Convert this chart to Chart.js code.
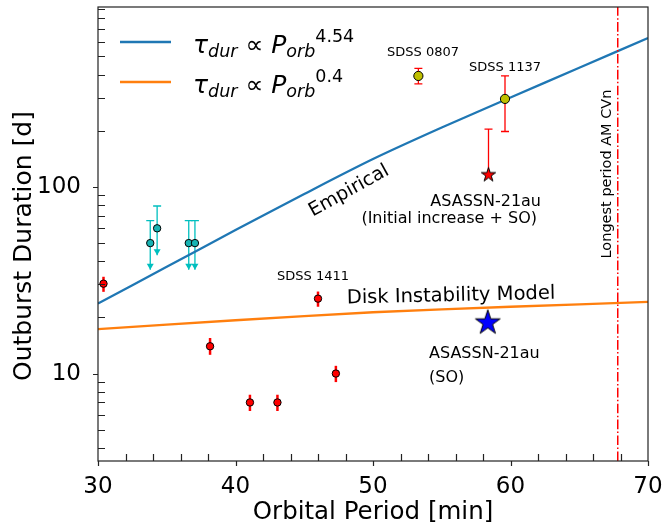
<!DOCTYPE html>
<html>
<head>
<meta charset="utf-8">
<title>Outburst duration vs orbital period</title>
<script src="https://cdn.jsdelivr.net/npm/chart.js"></script>
<style>
  html, body { margin: 0; padding: 0; background: #fff; }
</style>
</head>
<body>
<canvas id="chart" width="665" height="527"></canvas>
<script>
// axis ranges and tick labels
const xRange = [30, 70];
const yRange = [3.4, 920];
const xTicks = [30, 40, 50, 60, 70];
const yTicks = [10, 100];

// empirical trend
const empiricalP = [30, 35, 40, 45, 50, 55, 60, 65, 70];
const empiricalDur = [23.7, 37.3, 58.7, 91.6, 141, 208, 301, 435, 628];

// disk instability model (orange line)
const diskP = [30, 40, 50, 60, 70];
const diskDur = [17.3, 19.3, 21.3, 22.8, 24.2];

// normal outbursts (red points)
const normP = [30.4, 38.15, 41.05, 43.05, 46.0, 47.3];
const normDur = [30.3, 14.0, 7.0, 7.0, 25.2, 10.0];
const normLo = [27.4, 12.6, 6.3, 6.3, 22.8, 9.0];
const normHi = [33.0, 15.5, 7.7, 7.7, 27.5, 11.0];

// upper limits (cyan)
const limP = [33.8, 34.3, 36.6, 37.05];
const limDur = [50, 60, 50, 50];
const limHi = [66, 79, 66, 66];
const limArrow = [36, 43, 36, 36];

// SDSS 0807 and SDSS 1137 (yellow)
const sdssP = [53.3, 59.6];
const sdssDur = [393, 296];
const sdssLo = [356, 198];
const sdssHi = [431, 393];

// ASASSN-21au
const initP = [58.4];
const initDur = [117];
const initHi = [204];
const soP = [58.35];
const soDur = [19];
const soLo = [17.8];
const soHi = [20.3];

// longest period AM CVn
const amcvnP = 67.8;

const FONT = "'DejaVu Sans', sans-serif";

function pts(xs, ys) {
  return xs.map((x, i) => ({ x: x, y: ys[i] }));
}

// filled 5-point star marker like matplotlib '*'
function starMarker(r, fill) {
  const size = Math.ceil(2 * r + 4);
  const c = document.createElement('canvas');
  c.width = size;
  c.height = size;
  const g = c.getContext('2d');
  const cx = size / 2, cy = size / 2 + r * 0.1;
  g.beginPath();
  for (let i = 0; i < 10; i++) {
    const rad = i % 2 === 0 ? r : r * 0.382;
    const a = -Math.PI / 2 + i * Math.PI / 5;
    const px = cx + rad * Math.cos(a), py = cy + rad * Math.sin(a);
    if (i === 0) g.moveTo(px, py); else g.lineTo(px, py);
  }
  g.closePath();
  g.fillStyle = fill;
  g.fill();
  g.strokeStyle = '#000';
  g.lineWidth = 1;
  g.stroke();
  return c;
}

// error bars, drawn under the markers
const errorBars = {
  id: 'errorBars',
  beforeDatasetsDraw(chart) {
    const ctx = chart.ctx, xs = chart.scales.x, ys = chart.scales.y;
    const X = v => xs.getPixelForValue(v), Y = v => ys.getPixelForValue(v);
    ctx.save();
    function bar(x, lo, hi, color, lw, capLo, capHi) {
      ctx.strokeStyle = color;
      ctx.lineWidth = lw;
      ctx.beginPath();
      ctx.moveTo(X(x), Y(lo));
      ctx.lineTo(X(x), Y(hi));
      if (capLo) { ctx.moveTo(X(x) - 4, Y(lo)); ctx.lineTo(X(x) + 4, Y(lo)); }
      if (capHi) { ctx.moveTo(X(x) - 4, Y(hi)); ctx.lineTo(X(x) + 4, Y(hi)); }
      ctx.stroke();
    }
    normP.forEach((p, i) => bar(p, normLo[i], normHi[i], '#ff0000', 2.5, false, false));
    sdssP.forEach((p, i) => bar(p, sdssLo[i], sdssHi[i], '#ff0000', 1.3, true, true));
    initP.forEach((p, i) => bar(p, initDur[i], initHi[i], '#ff0000', 1.3, false, true));
    soP.forEach((p, i) => bar(p, soLo[i], soHi[i], '#ff0000', 1.3, false, false));
    limP.forEach((p, i) => {
      bar(p, limArrow[i], limHi[i], '#00bfbf', 1.3, false, true);
      const x = X(p), y = Y(limArrow[i]);
      ctx.fillStyle = '#00bfbf';
      ctx.beginPath();
      ctx.moveTo(x - 3.5, y - 6);
      ctx.lineTo(x + 3.5, y - 6);
      ctx.lineTo(x, y);
      ctx.closePath();
      ctx.fill();
    });
    ctx.restore();
  }
};

function drawText(ctx, s, x, y, size, align, angle) {
  ctx.save();
  ctx.translate(x, y);
  if (angle) ctx.rotate(angle * Math.PI / 180);
  ctx.font = size + 'px ' + FONT;
  ctx.fillStyle = '#000';
  ctx.textAlign = align || 'center';
  ctx.textBaseline = 'middle';
  ctx.fillText(s, 0, 0);
  ctx.restore();
}

// frame, ticks, labels, legend
const decorations = {
  id: 'decorations',
  afterDraw(chart) {
    const ctx = chart.ctx, a = chart.chartArea;
    const xs = chart.scales.x, ys = chart.scales.y;
    ctx.save();
    ctx.strokeStyle = '#222';
    ctx.lineWidth = 1.2;
    ctx.strokeRect(a.left, a.top, a.right - a.left, a.bottom - a.top);

    ctx.beginPath();
    for (let v = xRange[0]; v <= xRange[1]; v += 2) {
      const px = Math.round(xs.getPixelForValue(v)) + 0.5;
      if (v % 10 === 0) { ctx.moveTo(px, a.bottom); ctx.lineTo(px, a.bottom + 5); }
      else { ctx.moveTo(px, a.bottom); ctx.lineTo(px, a.bottom - 7); }
    }
    for (let dec = 1; dec <= 100; dec *= 10) {
      for (let m = 1; m <= 9; m++) {
        const v = m * dec;
        if (v < yRange[0] || v > yRange[1]) continue;
        const py = Math.round(ys.getPixelForValue(v)) + 0.5;
        if (m === 1) { ctx.moveTo(a.left, py); ctx.lineTo(a.left - 5, py); }
        else { ctx.moveTo(a.left, py); ctx.lineTo(a.left + 7, py); }
      }
    }
    ctx.stroke();

    // axis titles
    drawText(ctx, 'Orbital Period [min]', (a.left + a.right) / 2, 513, 24.5);
    drawText(ctx, 'Outburst Duration [d]', 24, 246, 25, 'center', -90);

    // annotations
    drawText(ctx, 'SDSS 0807', 423, 53, 13);
    drawText(ctx, 'SDSS 1137', 505, 68, 13);
    drawText(ctx, 'SDSS 1411', 313, 277, 13);
    drawText(ctx, 'ASASSN-21au', 541, 202, 16, 'right');
    drawText(ctx, '(Initial increase + SO)', 537, 219, 16, 'right');
    drawText(ctx, 'ASASSN-21au', 429, 354, 16, 'left');
    drawText(ctx, '(SO)', 429, 378, 16, 'left');
    drawText(ctx, 'Disk Instability Model', 451, 296, 19.5, 'center', -1.3);
    drawText(ctx, 'Empirical', 349, 191, 19, 'center', -29);
    drawText(ctx, 'Longest period AM CVn', 607, 174, 14.5, 'center', -90);

    // legend with sub/superscripts
    const sets = chart.data.datasets;
    const rows = [
      { color: sets[0].borderColor, exp: '4.54', y: 42 },
      { color: sets[1].borderColor, exp: '0.4', y: 82 }
    ];
    rows.forEach(r => {
      ctx.strokeStyle = r.color;
      ctx.lineWidth = 2.5;
      ctx.beginPath();
      ctx.moveTo(120, r.y);
      ctx.lineTo(171, r.y);
      ctx.stroke();
      const base = r.y + 11;
      let x = 193;
      ctx.fillStyle = '#000';
      ctx.textAlign = 'left';
      ctx.textBaseline = 'alphabetic';
      const put = (s, style, size, dy) => {
        ctx.font = style + ' ' + size + 'px ' + FONT;
        ctx.fillText(s, x, base + dy);
        x += ctx.measureText(s).width;
      };
      put('\u03c4', 'italic', 25, 0);
      put('dur', 'italic', 17.5, 4);
      put(' \u221d ', 'normal', 25, 0);
      put('P', 'italic', 25, 0);
      put('orb', 'italic', 17.5, 4);
      put(r.exp, 'normal', 17.5, -11);
    });
    ctx.restore();
  }
};

function noPadding(s) {
  s.paddingTop = 0;
  s.paddingBottom = 0;
  s.paddingLeft = 0;
  s.paddingRight = 0;
}

new Chart(document.getElementById('chart'), {
  type: 'scatter',
  data: {
    datasets: [
      {
        type: 'line', data: pts(empiricalP, empiricalDur),
        borderColor: '#1f77b4', borderWidth: 2.3, pointRadius: 0,
        tension: 0.3, order: 10
      },
      {
        type: 'line', data: pts(diskP, diskDur),
        borderColor: '#ff7f0e', borderWidth: 2.3, pointRadius: 0,
        tension: 0.3, order: 10
      },
      {
        type: 'line', data: [{ x: amcvnP, y: yRange[0] }, { x: amcvnP, y: yRange[1] }],
        borderColor: '#ff0000', borderWidth: 1.5, borderDash: [9.6, 2.4, 1.5, 2.4],
        pointRadius: 0, order: 9
      },
      {
        data: pts(normP, normDur), pointRadius: 3.7, pointBackgroundColor: '#ff0000',
        pointBorderColor: '#000', pointBorderWidth: 1, order: 2
      },
      {
        data: pts(limP, limDur), pointRadius: 3.7, pointBackgroundColor: '#17b3b3',
        pointBorderColor: '#000', pointBorderWidth: 1, order: 2
      },
      {
        data: pts(sdssP, sdssDur), pointRadius: 4.6, pointBackgroundColor: '#bfbf00',
        pointBorderColor: '#000', pointBorderWidth: 1, order: 2
      },
      {
        data: pts(initP, initDur), pointStyle: starMarker(7.5, '#ff0000'), order: 1
      },
      {
        data: pts(soP, soDur), pointStyle: starMarker(13, '#0000ff'), order: 1
      }
    ]
  },
  options: {
    responsive: false,
    animation: false,
    events: [],
    layout: { padding: { top: 7, right: 17, left: 0, bottom: 0 } },
    plugins: { legend: { display: false }, tooltip: { enabled: false } },
    scales: {
      x: {
        type: 'linear', min: xRange[0], max: xRange[1],
        afterBuildTicks: s => { s.ticks = xTicks.map(v => ({ value: v })); },
        afterFit: s => { s.height = 66; noPadding(s); },
        grid: { display: false }, border: { display: false },
        ticks: { font: { family: FONT, size: 23 }, color: '#000', padding: 4, maxRotation: 0, autoSkip: false }
      },
      y: {
        type: 'logarithmic', min: yRange[0], max: yRange[1],
        afterBuildTicks: s => { s.ticks = yTicks.map(v => ({ value: v })); },
        afterFit: s => { s.width = 98; noPadding(s); },
        grid: { display: false }, border: { display: false },
        ticks: { font: { family: FONT, size: 23 }, color: '#000', padding: 9, callback: v => String(v) }
      }
    }
  },
  plugins: [errorBars, decorations]
});
</script>
</body>
</html>
